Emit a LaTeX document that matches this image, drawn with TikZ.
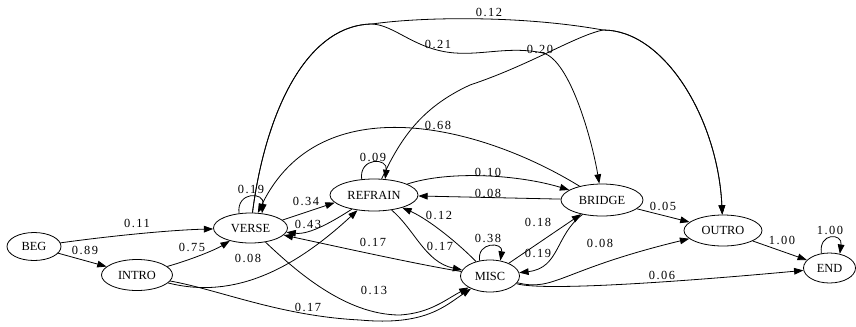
\documentclass[tikz,border=0pt]{standalone}
\usepackage{fontspec}
\setmainfont{Liberation Serif}
\newfontfamily\lblfont[LetterSpace=12]{Liberation Serif}
\usetikzlibrary{shapes.geometric,arrows.meta}
\begin{document}
\begin{tikzpicture}[x=0.75pt,y=-0.75pt,
  st/.style={ellipse,draw,line width=0.6pt,inner sep=0pt,font=\fontsize{9.3}{11}\selectfont},
  edge/.style={draw,line width=0.6pt,-{Triangle[length=7pt,width=5pt]}},
  lbl/.style={inner sep=0pt,font=\lblfont\fontsize{9.3}{11}\selectfont}]
\useasboundingbox (0,0) rectangle (856,326);
% nodes
\node[st,minimum width=40.5pt,minimum height=21pt] (BEG) at (34,246.5) {BEG};
\node[st,minimum width=53.25pt,minimum height=23.25pt] (INTRO) at (137,275) {INTRO};
\node[st,minimum width=55.5pt,minimum height=22.5pt] (VERSE) at (250.5,228) {VERSE};
\node[st,minimum width=66pt,minimum height=24pt] (REFRAIN) at (374,195) {REFRAIN};
\node[st,minimum width=44.25pt,minimum height=24pt] (MISC) at (490,276) {MISC};
\node[st,minimum width=61.5pt,minimum height=24pt] (BRIDGE) at (602,200) {BRIDGE};
\node[st,minimum width=58.5pt,minimum height=23.25pt] (OUTRO) at (723,230.5) {OUTRO};
\node[st,minimum width=39pt,minimum height=22.5pt] (END) at (829.5,268) {END};
% waypoints
\coordinate (vt) at (372,24);
\coordinate (tp) at (603,30);
\coordinate (da) at (455,53);
\coordinate (db) at (543,53);
\coordinate (ra) at (470,85);
\coordinate (ia) at (360,320);
\coordinate (va) at (400,315);
% self loops
\draw[edge] (VERSE.128) .. controls +(-3,-22) and +(3,-22) .. (VERSE.52);
\draw[edge] (REFRAIN.128) .. controls +(-3,-22) and +(3,-22) .. (REFRAIN.55);
\draw[edge] (MISC.124) .. controls +(-3,-19) and +(3,-19) .. (MISC.56);
\draw[edge] (END.119) .. controls +(-3,-21) and +(3,-21) .. (END.54);
% edges
\draw[edge] (BEG) .. controls (110,236) and (170,230) .. (VERSE);
\draw[edge] (BEG) -- (INTRO);
\draw[edge] (INTRO) .. controls (190,260) and (215,250) .. (VERSE);
\draw[edge] (INTRO) .. controls (235,300) and (295,268) .. (REFRAIN);
\draw[edge] (INTRO) .. controls (220,290) and (280,316) .. (ia) .. controls (425,326) and (445,306) .. (MISC);
\draw[edge] (VERSE) .. controls (295,270) and (345,315) .. (va) .. controls (430,313) and (445,300) .. (MISC);
\draw[edge] (VERSE.14) -- (REFRAIN.191);
\draw[edge] (REFRAIN) .. controls (335,220) and (310,235) .. (VERSE);
\draw[edge] (MISC) .. controls (420,265) and (330,245) .. (VERSE);
\draw[edge] (REFRAIN) .. controls (415,230) and (425,262) .. (MISC);
\draw[edge] (MISC) .. controls (460,245) and (430,220) .. (REFRAIN);
\draw[edge] (MISC) -- (BRIDGE);
\draw[edge] (BRIDGE) .. controls (555,235) and (560,268) .. (MISC);
\draw[edge] (MISC) .. controls (555,292) and (560,270) .. (OUTRO);
\draw[edge] (MISC) .. controls (545,292) and (700,280) .. (END);
\draw[edge] (BRIDGE) -- (OUTRO);
\draw[edge] (OUTRO) -- (END);
\draw[edge] (REFRAIN) .. controls (450,170) and (520,175) .. (BRIDGE);
\draw[edge] (BRIDGE) -- (REFRAIN);
\draw[edge] (BRIDGE) .. controls (480,125) and (320,85) .. (VERSE);
\draw[edge] (VERSE) .. controls (265,115) and (305,25) .. (vt)
  .. controls (395,25) and (415,50) .. (da)
  .. controls (485,55) and (510,46) .. (db)
  .. controls (570,60) and (592,140) .. (BRIDGE);
\draw[edge] (VERSE) .. controls (265,115) and (305,25) .. (vt)
  .. controls (420,17) and (520,15) .. (tp)
  .. controls (665,30) and (718,120) .. (OUTRO);
\draw[edge] (REFRAIN) .. controls (400,140) and (420,108) .. (ra)
  .. controls (530,65) and (575,36) .. (tp)
  .. controls (665,30) and (718,120) .. (OUTRO);
% labels
\node[lbl] (l1) at (137,223) {0.11};
\node[lbl] (l2) at (85,250) {0.89};
\node[lbl] (l3) at (192,247) {0.75};
\node[lbl] (l4) at (248,258) {0.08};
\node[lbl] (l5) at (308,307) {0.17};
\node[lbl] (l6) at (251,189) {0.19};
\node[lbl] (l7) at (306,201) {0.34};
\node[lbl] (l8) at (308,224) {0.43};
\node[lbl] (l9) at (374,290) {0.13};
\node[lbl] (l10) at (373,242) {0.17};
\node[lbl] (l11) at (373,157) {0.09};
\node[lbl] (l12) at (488,172) {0.10};
\node[lbl] (l13) at (488,193) {0.08};
\node[lbl] (l14) at (439,215) {0.12};
\node[lbl] (l15) at (440,246) {0.17};
\node[lbl] (l16) at (488,238) {0.38};
\node[lbl] (l17) at (538,222) {0.18};
\node[lbl] (l18) at (538,253) {0.19};
\node[lbl] (l19) at (438,125) {0.68};
\node[lbl] (l20) at (438,44) {0.21};
\node[lbl] (l21) at (489,12) {0.12};
\node[lbl] (l22) at (540,49) {0.20};
\node[lbl] (l23) at (663,206) {0.05};
\node[lbl] (l24) at (600,243) {0.08};
\node[lbl] (l25) at (662,275) {0.06};
\node[lbl] (l26) at (782,240) {1.00};
\node[lbl] (l27) at (830,230) {1.00};
\end{tikzpicture}
\end{document}
